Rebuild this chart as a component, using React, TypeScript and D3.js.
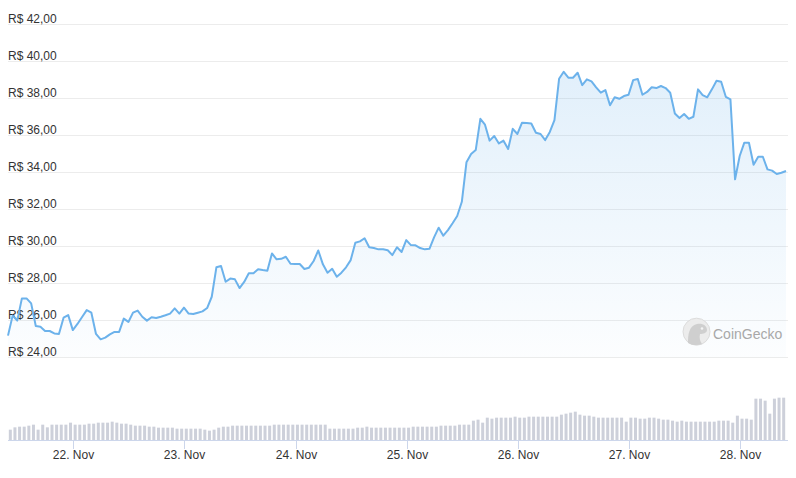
import React from "react";
import * as d3 from "d3";

const W = 796;
const H = 478;

// Hourly price series (R$), starting 21 Nov ~09:54
const START = new Date(2020, 10, 21, 9, 54);
const prices: number[] = [
  25.17, 26.25, 25.98, 27.18, 27.18, 26.91, 25.69, 25.65, 25.42, 25.42,
  25.29, 25.26, 26.14, 26.28, 25.47, 25.8, 26.18, 26.55, 26.41, 25.26,
  24.97, 25.06, 25.24, 25.37, 25.37, 26.09, 25.91, 26.41, 26.52, 26.19,
  25.98, 26.16, 26.12, 26.19, 26.27, 26.36, 26.64, 26.36, 26.68, 26.36,
  26.34, 26.41, 26.48, 26.66, 27.27, 28.86, 28.93, 28.08, 28.25, 28.21,
  27.74, 28.07, 28.54, 28.54, 28.75, 28.71, 28.68, 29.61, 29.29, 29.32,
  29.43, 29.05, 29.04, 29.04, 28.77, 28.84, 29.2, 29.77, 29.02, 28.57,
  28.78, 28.35, 28.57, 28.86, 29.25, 30.19, 30.26, 30.43, 29.94, 29.9,
  29.83, 29.83, 29.78, 29.52, 29.94, 29.69, 30.33, 30.06, 30.05, 29.9,
  29.83, 29.86, 30.48, 31.0, 30.57, 30.87, 31.24, 31.63, 32.4, 34.53,
  34.98, 35.19, 36.88, 36.56, 35.7, 35.95, 35.55, 35.7, 35.25, 36.34,
  36.06, 36.67, 36.65, 36.63, 36.13, 36.06, 35.73, 36.17, 36.81, 39.04,
  39.42, 39.1, 39.1, 39.37, 38.7, 39.01, 38.9, 38.58, 38.29, 38.43,
  37.61, 38.04, 37.96, 38.11, 38.18, 38.97, 39.03, 38.18, 38.33, 38.58,
  38.54, 38.65, 38.54, 38.29, 37.17, 36.92, 37.14, 36.88, 36.99, 38.47,
  38.16, 38.04, 38.47, 38.94, 38.88, 38.07, 37.93, 33.61, 34.87, 35.59,
  35.59, 34.4, 34.83, 34.83, 34.15, 34.08, 33.9, 33.97, 34.06,
];

// Hourly volume (relative units)
const volumes: number[] = [
  31, 38, 40, 40, 43, 46, 31, 46, 38, 46,
  46, 46, 46, 52, 46, 46, 46, 49, 49, 52,
  52, 52, 55, 52, 49, 49, 46, 43, 43, 43,
  40, 40, 37, 37, 37, 37, 34, 34, 34, 34,
  34, 34, 31, 28, 31, 37, 40, 40, 43, 43,
  43, 43, 43, 43, 43, 43, 43, 46, 46, 46,
  46, 46, 46, 46, 46, 46, 46, 46, 46, 34,
  34, 34, 34, 34, 34, 37, 37, 40, 37, 37,
  37, 37, 37, 37,
  37, 37, 37, 40, 40, 40, 40, 40, 40, 43,
  43, 43, 43, 46, 46, 46, 58, 61, 52, 67,
  64, 67, 67, 67, 67, 70, 67, 67, 70, 70,
  70, 70, 70, 70, 70, 76, 79, 82, 85, 76,
  73, 73, 70, 67, 67, 67, 67, 67, 67, 55,
  67, 67, 64, 64, 67, 67, 64, 61, 61, 58,
  55, 58, 55, 55, 55, 55, 55, 55, 55, 58,
  58, 58, 52, 73, 64, 64, 61, 124, 124, 118,
  79, 124, 127, 127,
];

const priceTicks: number[] = [24, 26, 28, 30, 32, 34, 36, 38, 40, 42];
const tickDays: number[] = [22, 23, 24, 25, 26, 27, 28];
const tickLabels: string[] = ["22. Nov", "23. Nov", "24. Nov", "25. Nov", "26. Nov", "27. Nov", "28. Nov"];

const HOUR = 3600 * 1000;

export default function App() {
  const x = d3
    .scaleTime()
    .domain([START, new Date(START.getTime() + 168 * HOUR)])
    .range([8, 786]);
  const y = d3.scaleLinear().domain([24, 42]).range([357.3, 24]);
  const yv = d3.scaleLinear().domain([0, 130]).range([440, 440 - 130 / 3]);

  const pts = prices.map((p, i) => ({ t: new Date(START.getTime() + i * HOUR), p }));
  const line = d3
    .line<{ t: Date; p: number }>()
    .x((d) => x(d.t))
    .y((d) => y(d.p));
  const area = d3
    .area<{ t: Date; p: number }>()
    .x((d) => x(d.t))
    .y0(357.3)
    .y1((d) => y(d.p));

  const fmt = (v: number) => "R$ " + v.toFixed(2).replace(".", ",");
  const font = "'Liberation Sans', Arial, Helvetica, sans-serif";

  return (
    <svg
      width={W}
      height={H}
      style={{ position: "absolute", left: 0, top: 0, background: "#fff" }}
      fontFamily={font}
    >
      <defs>
        <linearGradient id="areaGrad" x1="0" y1="0" x2="0" y2="1">
          <stop offset="0%" stopColor="#6cb2eb" stopOpacity={0.2} />
          <stop offset="100%" stopColor="#6cb2eb" stopOpacity={0.02} />
        </linearGradient>
      </defs>

      {priceTicks.map((v) => (
        <line key={"g" + v} x1={8} x2={788} y1={Math.round(y(v)) + 0.5} y2={Math.round(y(v)) + 0.5} stroke="#ececec" strokeWidth={1} />
      ))}

      <path d={area(pts) || ""} fill="url(#areaGrad)" />

      {priceTicks.map((v) => (
        <text key={"t" + v} x={8} y={y(v) - 1.5} fontSize={12} fill="#333">
          {fmt(v)}
        </text>
      ))}

      <path d={line(pts) || ""} fill="none" stroke="#6cb2eb" strokeWidth={2} strokeLinejoin="round" />

      {/* watermark */}
      <g>
        <circle cx={696.5} cy={331.7} r={13.5} fill="#ececec" stroke="#dcdcdc" strokeWidth={1} />
        <path
          d="M688,343 C688,334 689,326 697,324 C703,323 707,326 707,330 C707,333 703,334 700,334 C699,338 700,341 702,344 C697,346 691,345 688,343 Z"
          fill="#cfcfcf"
        />
        <circle cx={702} cy={328.5} r={1.3} fill="#f4f4f4" />
        <text x={713} y={338.5} fontSize={14} fill="#a8a8a8">
          CoinGecko
        </text>
      </g>

      {volumes.map((v, i) => {
        const cx = x(new Date(START.getTime() + (i + 0.5) * HOUR));
        return <rect key={"v" + i} x={cx - 1.5} y={yv(v)} width={3} height={440 - yv(v)} fill="#cdd0da" />;
      })}

      <line x1={8} x2={788} y1={440.5} y2={440.5} stroke="#ccd6eb" strokeWidth={1} />
      {tickDays.map((d, i) => {
        const tx = Math.round(x(new Date(2020, 10, d, 0, 0))) + 0.5;
        return (
          <g key={"x" + d}>
            <line x1={tx} x2={tx} y1={440} y2={449} stroke="#ccd6eb" strokeWidth={1} />
            <text x={tx} y={459} fontSize={12} fill="#333" textAnchor="middle">
              {tickLabels[i]}
            </text>
          </g>
        );
      })}
    </svg>
  );
}
